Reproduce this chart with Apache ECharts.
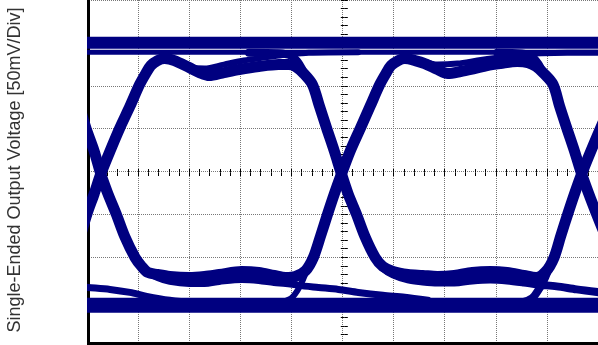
<!DOCTYPE html>
<html>
<head>
<meta charset="utf-8">
<script src="https://cdn.jsdelivr.net/npm/echarts@6/dist/echarts.min.js"></script>
<style>
	html, body { margin: 0; padding: 0; background: #fff; }
	#eyeChart { width: 598px; height: 345px; }
</style>
</head>
<body>
<div id="eyeChart"></div>
<script>
	// x: time in divisions (0..10), y: single-ended output in mV (50 mV/div)
	const yTitle = 'Single-Ended Output Voltage [50mV/Div]';
	const xDivs = [0, 10];
	const yRange = [-200, 200];

	// steady levels (1-1-1 and 0-0-0 patterns)
	const highLevel = [[-0.1, 150.2], [2, 150.2], [4, 150.2], [6, 150.2], [8, 150.2], [10.2, 150.2]];
	const highLevelLow = [[-0.1, 139.2], [2, 139.2], [4, 139.2], [6, 139.2], [8, 139.2], [10.2, 139.2]];
	const lowLevel = [[-0.1, -156.0], [2, -156.0], [4, -156.0], [6, -156.0], [8, -156.0], [10.2, -156.0]];

	// 0-1-0-1: eye 1 top contour, eye 2 bottom contour
	const traceA = [
		[-0.13, -75.4], [0.00, -49.3], [0.14, -26.1], [0.27, -2.9], [0.45, 23.8], [0.64, 50.5], [0.84, 76.0], [1.03, 101.5],
		[1.15, 114.3], [1.25, 123.6], [1.38, 129.4], [1.52, 131.7], [1.71, 129.4], [2.00, 121.2], [2.20, 115.4], [2.39, 111.9],
		[2.68, 115.4], [2.98, 118.9], [3.36, 122.4], [3.75, 124.7], [3.95, 124.7], [4.08, 122.4], [4.24, 114.3], [4.41, 101.5],
		[4.55, 76.0], [4.69, 50.5], [4.84, 23.8], [4.98, -2.9], [5.11, -26.1], [5.27, -49.3], [5.44, -76.0], [5.64, -100.3],
		[5.79, -110.8], [5.99, -116.6], [6.28, -120.1], [6.57, -121.2], [6.86, -122.4], [7.19, -121.2], [7.54, -117.7], [7.89, -116.6],
		[8.22, -117.7], [8.55, -121.2], [8.79, -123.6], [8.98, -116.6], [9.14, -100.3], [9.27, -75.4], [9.41, -49.3], [9.54, -26.1],
		[9.68, -2.9], [9.86, 23.8], [10.05, 50.5], [10.24, 76.0]
	];
	// 1-0-1-0: eye 1 bottom contour, eye 2 top contour
	const traceB = [
		[-0.15, 76.0], [-0.02, 50.5], [0.14, 23.8], [0.27, -2.9], [0.41, -26.1], [0.57, -49.3], [0.74, -76.0], [0.94, -100.3],
		[1.07, -110.8], [1.19, -117.7], [1.38, -120.1], [1.62, -122.4], [2.00, -123.6], [2.30, -122.4], [2.59, -120.1], [3.03, -116.6],
		[3.36, -117.7], [3.66, -121.2], [3.89, -123.6], [4.08, -122.4], [4.28, -115.4], [4.43, -100.3], [4.57, -75.4], [4.71, -49.3],
		[4.84, -26.1], [4.98, -2.9], [5.15, 23.8], [5.35, 50.5], [5.54, 76.0], [5.73, 101.5], [5.85, 114.3], [5.95, 123.6],
		[6.09, 129.4], [6.22, 131.7], [6.42, 129.4], [6.61, 125.9], [6.86, 118.9], [7.06, 114.3], [7.31, 116.6], [7.58, 120.1],
		[7.83, 123.6], [8.09, 125.9], [8.42, 128.2], [8.63, 127.0], [8.79, 122.4], [8.94, 114.3], [9.12, 101.5], [9.25, 76.0],
		[9.39, 50.5], [9.54, 23.8], [9.68, -2.9], [9.82, -26.1], [9.97, -49.3], [10.15, -76.0]
	];
	// 0-1-1 in eye 1
	const traceC = [
		[-0.13, -75.4], [0.00, -49.3], [0.14, -26.1], [0.27, -2.9], [0.45, 23.8], [0.64, 50.5], [0.84, 76.0], [1.03, 101.5],
		[1.15, 114.3], [1.25, 123.6], [1.38, 129.4], [1.52, 131.7], [1.71, 129.9], [2.00, 122.4], [2.30, 120.1], [2.68, 124.7],
		[3.07, 129.4], [3.46, 132.8], [3.75, 135.2], [3.99, 137.0], [4.34, 138.6], [5.31, 139.2]
	];
	// 1-0-0 in eye 1
	const traceD = [
		[-0.15, 76.0], [-0.02, 50.5], [0.14, 23.8], [0.27, -2.9], [0.41, -26.1], [0.57, -49.3], [0.74, -76.0], [0.94, -100.3],
		[1.07, -110.8], [1.19, -117.7], [1.38, -123.6], [1.62, -128.2], [2.00, -130.5], [2.30, -130.5], [2.59, -128.2], [3.03, -125.9],
		[3.36, -127.0], [3.66, -129.4], [3.89, -130.5], [4.14, -132.8], [4.53, -135.2], [4.92, -137.5], [5.31, -141.0], [5.79, -144.4],
		[6.22, -146.7], [6.67, -150.2]
	];
	// 1-1-0-0 falling at the centre crossing
	const traceE = [
		[3.17, 138.6], [3.75, 138.0], [3.99, 135.2], [4.12, 128.2], [4.24, 116.6], [4.41, 101.5], [4.55, 76.0], [4.69, 50.5],
		[4.84, 23.8], [4.98, -2.9], [5.11, -26.1], [5.27, -49.3], [5.44, -76.0], [5.64, -100.3], [5.79, -112.0], [5.99, -120.1],
		[6.28, -125.9], [6.57, -128.2], [6.86, -129.4], [7.19, -129.4], [7.54, -127.0], [7.89, -125.9], [8.22, -127.0], [8.55, -129.4],
		[8.81, -131.7], [9.19, -134.0], [9.58, -137.5], [10.05, -141.0]
	];
	// 0-0-1-1 rising at the centre crossing
	const traceF = [
		[3.17, -153.7], [3.75, -152.6], [3.99, -148.0], [4.12, -138.6], [4.22, -127.0], [4.32, -113.1], [4.43, -100.3], [4.57, -75.4],
		[4.71, -49.3], [4.84, -26.1], [4.98, -2.9], [5.15, 23.8], [5.35, 50.5], [5.54, 76.0], [5.73, 101.5], [5.85, 114.3],
		[5.95, 123.6], [6.09, 129.4], [6.22, 131.7], [6.47, 130.5], [6.86, 124.7], [7.25, 125.9], [7.64, 129.4], [8.03, 132.8],
		[8.55, 136.9], [8.90, 138.0], [10.05, 138.6]
	];
	// 1-1-0 at the right crossing
	const traceG = [
		[8.03, 138.6], [8.51, 137.5], [8.71, 134.0], [8.83, 125.9], [8.94, 114.3], [9.12, 101.5], [9.25, 76.0], [9.39, 50.5],
		[9.54, 23.8], [9.68, -2.9], [9.82, -26.1], [9.97, -49.3], [10.15, -76.0]
	];
	// 0-0-1 at the right crossing
	const traceH = [
		[8.03, -153.7], [8.51, -152.6], [8.71, -147.9], [8.83, -138.6], [8.94, -127.0], [9.04, -113.1], [9.14, -100.3], [9.27, -75.4],
		[9.41, -49.3], [9.54, -26.1], [9.68, -2.9], [9.86, 23.8], [10.05, 50.5]
	];
	// settling tail entering from the left
	const traceJ = [[-0.1, -134.5], [0.02, -135.2], [0.45, -137.5], [0.84, -141.0], [1.17, -145.6], [1.62, -150.2], [2.1, -153.0]];

	const INK = '#000080';
	const GRID = '#777';

	function trace(data, width) {
		return {
			type: 'line',
			data: data,
			smooth: 0.3,
			symbol: 'none',
			silent: true,
			clip: true,
			lineStyle: { color: INK, width: width, cap: 'round', join: 'round' }
		};
	}

	function centreTicks(inside) {
		return {
			axisLine: { show: false },
			axisTick: { show: true, inside: inside, length: 3.5, lineStyle: { color: '#000', width: 1 } },
			minorTick: { show: true, splitNumber: 5, length: 3.5, lineStyle: { color: '#000', width: 1 } },
			axisLabel: { show: false },
			splitLine: { show: false }
		};
	}

	const chart = echarts.init(document.getElementById('eyeChart'));
	chart.setOption({
		animation: false,
		backgroundColor: '#fff',
		grid: { left: 87, right: -3.5, top: -2, bottom: 2 },
		xAxis: [
			{
				type: 'value', min: xDivs[0], max: xDivs[1], interval: 1,
				axisLine: { show: true, onZero: false, lineStyle: { color: '#000', width: 3 } },
				axisTick: { show: false },
				axisLabel: { show: false },
				splitLine: { show: true, lineStyle: { color: GRID, width: 1, type: [1, 1] } }
			},
			Object.assign({ type: 'value', min: xDivs[0], max: xDivs[1], interval: 1, offset: -172.5 }, centreTicks(true)),
			Object.assign({ type: 'value', min: xDivs[0], max: xDivs[1], interval: 1, offset: -172.5 }, centreTicks(false))
		],
		yAxis: [
			{
				type: 'value', min: yRange[0], max: yRange[1], interval: 50, offset: -1.5,
				axisLine: { show: true, onZero: false, lineStyle: { color: '#000', width: 3 } },
				axisTick: { show: false },
				axisLabel: { show: false },
				splitLine: { show: true, lineStyle: { color: GRID, width: 1, type: [1, 1] } }
			},
			Object.assign({ type: 'value', min: yRange[0], max: yRange[1], interval: 50, offset: -257.3 }, centreTicks(true)),
			Object.assign({ type: 'value', min: yRange[0], max: yRange[1], interval: 50, offset: -257.3 }, centreTicks(false))
		],
		graphic: [{
			// mask the stroke overhang left of the plot frame
			type: 'rect',
			z: 100,
			silent: true,
			shape: { x: 0, y: 0, width: 87, height: 345 },
			style: { fill: '#fff' }
		}, {
			type: 'text',
			z: 101,
			x: 15.5,
			y: 170,
			rotation: Math.PI / 2,
			silent: true,
			style: {
				text: yTitle,
				fill: '#333',
				font: '18px "Liberation Sans", Arial, sans-serif',
				align: 'center',
				verticalAlign: 'middle'
			}
		}],
		series: [
			trace(highLevel, 12),
			trace(highLevelLow, 5),
			trace(lowLevel, 15),
			trace(traceJ, 7),
			trace(traceC, 6),
			trace(traceD, 7),
			trace(traceE, 8),
			trace(traceF, 6),
			trace(traceG, 8),
			trace(traceH, 8),
			trace(traceA, 11),
			trace(traceB, 11)
		]
	});
</script>
</body>
</html>
